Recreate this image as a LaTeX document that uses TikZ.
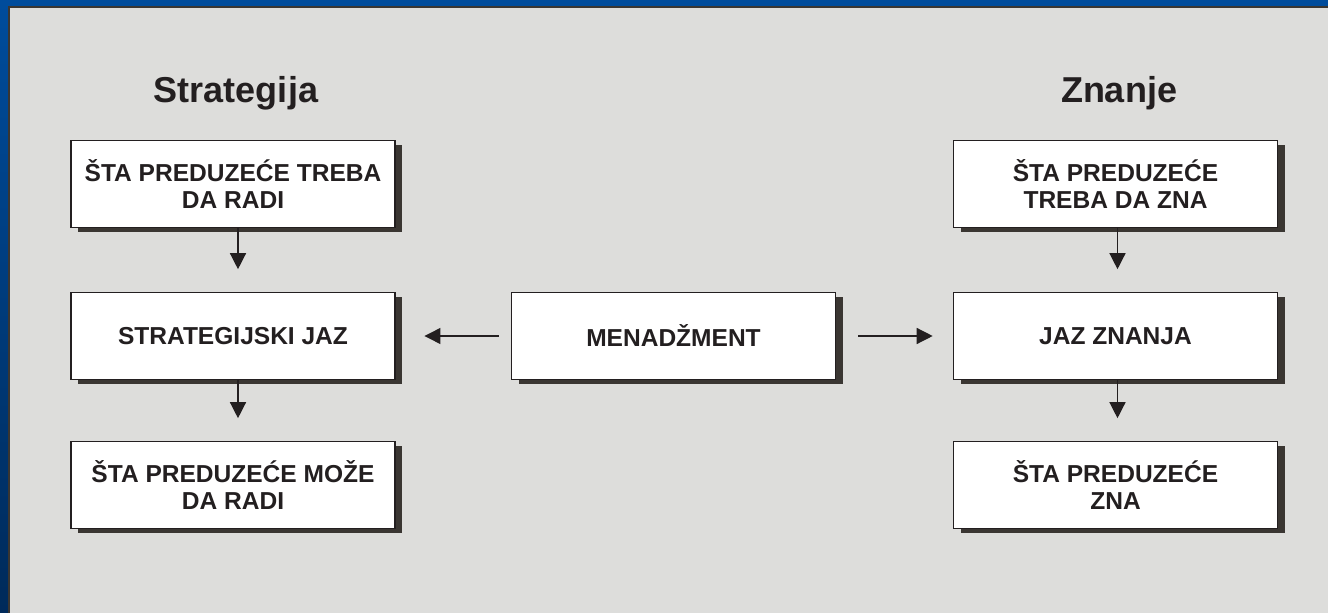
\documentclass[tikz,border=0pt]{standalone}
\usepackage{fontspec}
\setmainfont{Liberation Sans}
\usetikzlibrary{arrows.meta,shadows}

\definecolor{ink}{HTML}{231F20}
\definecolor{shadowcol}{HTML}{3A3632}
\definecolor{panelcol}{HTML}{DDDDDB}
\definecolor{bluetop}{HTML}{004C9C}
\definecolor{bluebot}{HTML}{002A5A}

\tikzset{
  box/.style={draw=ink, line width=1.2pt, fill=white, minimum width=243pt, minimum height=65pt,
    align=center, text=ink, font=\fontsize{18.4}{20}\selectfont\bfseries,
    drop shadow={shadow xshift=5.5pt, shadow yshift=-3.5pt, fill=shadowcol, opacity=1}},
  title/.style={anchor=base, text=ink, font=\fontsize{27}{32}\selectfont\bfseries},
  arr/.style={draw=ink, line width=1pt, -{Triangle[length=12pt, width=12pt]}}
}

\begin{document}
\begin{tikzpicture}[x=0.75pt, y=-0.75pt]

\useasboundingbox (0,0) rectangle (1328,613);
\fill [top color=bluetop, bottom color=bluebot] (0,0) rectangle (1328,613);
\fill [panelcol] (9,7) rectangle (1328,613);
\draw [draw=shadowcol, line width=1.5pt] (9,613) -- (9,7) -- (1328,7);

\node[title] (strat) at (236,103) {Strategija};
\node[title] (znanje) at (1119,103) {Znanje};

\node[box] (treba) at (233,184) {ŠTA PREDUZEĆE TREBA\\DA RADI};
\node[box] (sjaz) at (233,336) {STRATEGIJSKI JAZ};
\node[box] (moze) at (233,485) {ŠTA PREDUZEĆE MOŽE\\DA RADI};

\node[box] (mgmt) at (673.5,336) {MENADŽMENT};

\node[box] (trebazna) at (1115.5,184) {ŠTA PREDUZEĆE\\TREBA DA ZNA};
\node[box] (jaz) at (1115.5,336) {JAZ ZNANJA};
\node[box] (zna) at (1115.5,485) {ŠTA PREDUZEĆE\\ZNA};

\draw [arr, shorten >=17pt] ([xshift=3.75pt]treba.south) -- ([xshift=3.75pt]sjaz.north);
\draw [arr, shorten >=17pt] ([xshift=3.75pt]sjaz.south) -- ([xshift=3.75pt]moze.north);
\draw [arr, shorten >=17pt] ([xshift=1.5pt]trebazna.south) -- ([xshift=1.5pt]jaz.north);
\draw [arr, shorten >=17pt] ([xshift=1.5pt]jaz.south) -- ([xshift=1.5pt]zna.north);

\draw [arr, shorten <=9pt, shorten >=21.5pt] (mgmt.west) -- (sjaz.east);
\draw [arr, shorten <=16.5pt, shorten >=15pt] (mgmt.east) -- (jaz.west);

\end{tikzpicture}
\end{document}
